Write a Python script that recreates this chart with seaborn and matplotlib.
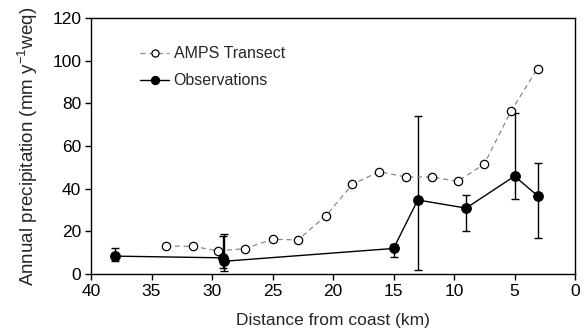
import matplotlib
matplotlib.use("Agg")
import matplotlib.pyplot as plt
import seaborn as sns
import pandas as pd
import numpy as np

amps_dist = [33.8, 31.6, 29.5, 27.3, 25.0, 22.9, 20.6, 18.4, 16.2, 14.0, 11.8, 9.7, 7.5, 5.3, 3.1]
amps_prec = [13.1, 13.0, 10.9, 11.9, 16.3, 16.0, 27.2, 42.0, 48.0, 45.5, 45.5, 43.4, 51.6, 76.3, 96.3]

obs_dist = [38.0, 29.1, 29.0, 15.0, 13.0, 9.0, 5.0, 3.1]
obs_prec = [8.4, 7.6, 6.0, 12.0, 34.7, 30.9, 45.9, 36.7]
obs_low = [6.1, 3.0, 1.5, 8.1, 1.9, 20.2, 35.0, 17.0]
obs_high = [12.3, 17.8, 18.7, 14.0, 74.1, 36.9, 75.3, 52.0]

sns.set_style("ticks")
plt.rcParams['font.family'] = ['Liberation Sans', 'DejaVu Sans']

fig = plt.figure(figsize=(5.85, 3.33), dpi=100)
ax = fig.add_axes([0.1556, 0.177, 0.8274, 0.769])

amps = pd.DataFrame({"d": amps_dist, "p": amps_prec})
obs = pd.DataFrame({"d": obs_dist, "p": obs_prec})

lo = np.array(obs_prec) - np.array(obs_low)
hi = np.array(obs_high) - np.array(obs_prec)
ax.errorbar(obs_dist, obs_prec, yerr=[lo, hi], fmt="none", ecolor="black",
            elinewidth=1.0, capsize=2.6, capthick=1.0, zorder=2)

sns.lineplot(data=amps, x="d", y="p", ax=ax, color="#888888", linewidth=0.9,
             linestyle=(0, (4, 3)), marker="o", markersize=6, markerfacecolor="white",
             markeredgecolor="black", markeredgewidth=0.9, sort=False,
             label="AMPS Transect", zorder=3)
sns.lineplot(data=obs, x="d", y="p", ax=ax, color="black", linewidth=1.0,
             marker="o", markersize=7, markerfacecolor="black",
             markeredgecolor="black", sort=False, label="Observations", zorder=4)

ax.set_xlim(40, 0)
ax.set_ylim(0, 120)
ax.set_xticks([40, 35, 30, 25, 20, 15, 10, 5, 0])
ax.set_yticks([0, 20, 40, 60, 80, 100, 120])
ax.tick_params(labelsize=12.5, direction="out", length=4, width=1, colors="black", pad=3)
for s in ax.spines.values():
    s.set_linewidth(1.0)
    s.set_color("black")
ax.set_xlabel("Distance from coast (km)", fontsize=12.5, labelpad=10)
ax.set_ylabel("Annual precipitation (mm y$^{\\mathregular{-1}}$weq)", fontsize=13.5, labelpad=9)

leg = ax.legend(loc="upper left", bbox_to_anchor=(0.085, 0.92), frameon=False,
                fontsize=11.5, handlelength=1.8, labelspacing=0.75, handletextpad=0.3,
                borderpad=0, markerscale=0.85)

fig.savefig("out.png", dpi=100)
